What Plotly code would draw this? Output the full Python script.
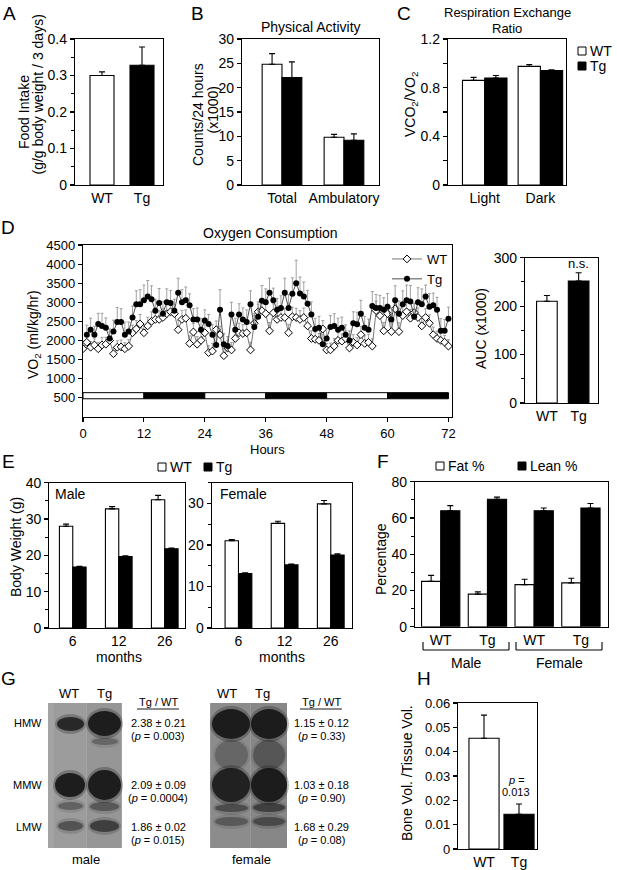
import plotly.graph_objects as go

W, H = 617, 870
FONT = "Liberation Sans"
BLACK = "black"

# ---------------- data ----------------
a_labels = ["WT", "Tg"]
a_values = [0.300, 0.328]
a_errors = [0.010, 0.050]

b_labels = ["Total", "Ambulatory"]
b_wt = [24.8, 9.8]
b_wt_err = [2.2, 0.6]
b_tg = [22.1, 9.2]
b_tg_err = [3.2, 1.3]

c_labels = ["Light", "Dark"]
c_wt = [0.86, 0.975]
c_wt_err = [0.025, 0.015]
c_tg = [0.88, 0.94]
c_tg_err = [0.020, 0.006]

d_interval_h = 0.75
d_wt = [1780, 1950, 1820, 1880, 1780, 1880, 1900, 2000, 1650, 1820,
        1830, 1780, 1850, 2200, 2300, 2430, 2200, 2380, 2500, 2550,
        2550, 2600, 2700, 2750, 2700, 2280, 2550, 2580, 1920, 2220,
        1900, 2000, 2200, 1680, 1720, 2280, 2150, 1600, 1800, 1750,
        2050, 2200, 2180, 2200, 1750, 2450, 2750, 2780, 2700, 2250,
        2720, 2550, 2600, 2600, 2200, 2620, 2600, 2550, 2600, 2380,
        2050, 2030, 2000, 2300, 1750, 1750, 1850, 2000, 1980, 2050,
        1800, 1950, 1880, 2150, 1920, 1950, 1850, 2780, 2650, 2250,
        2700, 2230, 2830, 2230, 2650, 2750, 2580, 2730, 2600, 2380,
        2600, 2450, 2150, 2050, 2000, 1950, 1850]
d_wt_err = [200, 180, 150, 160, 170, 200, 180, 220, 150, 170,
            180, 160, 170, 200, 220, 250, 200, 230, 250, 220,
            230, 240, 250, 220, 230, 250, 240, 220, 200, 220,
            200, 220, 250, 180, 200, 230, 220, 180, 200, 190,
            220, 250, 230, 240, 200, 250, 260, 250, 240, 220,
            240, 220, 230, 240, 220, 250, 240, 230, 250, 220,
            200, 190, 180, 220, 170, 180, 200, 210, 190, 200,
            180, 200, 190, 220, 200, 210, 190, 250, 240, 220,
            250, 220, 260, 230, 240, 250, 230, 240, 250, 220,
            230, 220, 200, 190, 180, 180, 170]
d_tg = [2150, 2280, 2150, 2430, 2380, 2330, 2050, 2230, 2480, 2480,
        2150, 2230, 2600, 2950, 2950, 3050, 3150, 3080, 2780, 2980,
        2700, 3000, 2980, 2780, 3250, 3000, 3050, 2920, 2550, 2550,
        2280, 2520, 2430, 2150, 1880, 2800, 1900, 1850, 2680, 2280,
        2680, 2550, 2480, 2950, 2350, 2620, 3040, 3000, 3250, 3050,
        2800, 2850, 3250, 2850, 3220, 3500, 3230, 3150, 2960, 2680,
        2300, 2330, 1900, 2050, 2350, 2380, 2280, 2330, 2150, 2000,
        2450, 2420, 2700, 2330, 2280, 2900, 2850, 2850, 2800, 2880,
        2550, 3050, 2700, 2950, 3050, 3020, 2620, 3000, 2950, 3150,
        2880, 2920, 2800, 2250, 2250, 2570]
d_tg_err = [250, 300, 220, 280, 330, 260, 250, 300, 380, 350,
            330, 250, 300, 350, 380, 400, 420, 350, 300, 380,
            320, 350, 330, 300, 380, 330, 350, 300, 280, 300,
            300, 280, 250, 260, 300, 530, 280, 250, 320, 300,
            280, 300, 320, 350, 300, 330, 400, 350, 380, 320,
            300, 320, 380, 350, 420, 600, 430, 380, 350, 330,
            280, 300, 250, 260, 300, 320, 300, 280, 260, 250,
            300, 320, 350, 300, 280, 380, 350, 330, 320, 350,
            300, 380, 330, 350, 400, 420, 350, 380, 400, 300,
            350, 320, 330, 320, 300, 300]
d_x_ticks = [0, 12, 24, 36, 48, 60, 72]
d_y_ticks = [500, 1000, 1500, 2000, 2500, 3000, 3500, 4000, 4500]
d_phases = ["light", "dark", "light", "dark", "light", "dark"]
d_phase_len_h = 12

auc_labels = ["WT", "Tg"]
auc_values = [210, 252]
auc_errors = [12, 17]

e_months = ["6", "12", "26"]
e_male_wt = [28.0, 32.8, 35.3]
e_male_wt_err = [0.6, 0.6, 1.2]
e_male_tg = [16.8, 19.7, 21.8]
e_male_tg_err = [0.2, 0.2, 0.2]
e_fem_wt = [21.0, 25.2, 29.9]
e_fem_wt_err = [0.3, 0.5, 0.8]
e_fem_tg = [13.1, 15.2, 17.6]
e_fem_tg_err = [0.2, 0.2, 0.3]

f_labels = ["WT", "Tg", "WT", "Tg"]
f_fat = [25.0, 18.0, 23.2, 24.2]
f_fat_err = [3.3, 1.2, 3.0, 2.5]
f_lean = [64.0, 70.3, 64.0, 65.5]
f_lean_err = [2.8, 1.2, 1.5, 2.5]

g_rows = ["HMW", "MMW", "LMW"]
g_male_mean = ["2.38", "2.09", "1.86"]
g_male_sd = ["0.21", "0.09", "0.02"]
g_male_p = ["0.003", "0.0004", "0.015"]
g_fem_mean = ["1.15", "1.03", "1.68"]
g_fem_sd = ["0.12", "0.18", "0.29"]
g_fem_p = ["0.33", "0.90", "0.08"]

h_labels = ["WT", "Tg"]
h_values = [0.0455, 0.0143]
h_errors = [0.0095, 0.0042]

# ---------------- helpers ----------------
annotations = []
shapes = []


def px(x):
    return x / W


def py(y):
    return 1 - y / H


def txt(x, y, s, size=14, angle=0, xanchor="center", yanchor="middle"):
    annotations.append(dict(x=px(x), y=py(y), xref="paper", yref="paper", text=s,
                            showarrow=False, textangle=angle, xanchor=xanchor,
                            yanchor=yanchor,
                            font=dict(family=FONT, size=size, color=BLACK)))


def prect(x0, y0, x1, y1, fill, line=None, lw=0, opacity=1.0, kind="rect"):
    shapes.append(dict(type=kind, xref="paper", yref="paper", x0=px(x0), x1=px(x1),
                       y0=py(y1), y1=py(y0), fillcolor=fill, opacity=opacity,
                       line=dict(color=line or fill, width=lw), layer="above"))


def pline(x0, y0, x1, y1, lw=1.1):
    shapes.append(dict(type="line", xref="paper", yref="paper", x0=px(x0), x1=px(x1),
                       y0=py(y0), y1=py(y1), line=dict(color=BLACK, width=lw)))


boxes = {
    1: (75, 163, 39, 185),
    2: (242, 379, 39, 185),
    3: (448, 566, 39, 185),
    4: (83, 452, 245, 416.7),
    5: (525, 598, 257.7, 403),
    6: (49.3, 185, 482.7, 628),
    7: (211.7, 352, 482.7, 628),
    8: (415, 608, 481.7, 626.7),
    9: (458, 537, 703, 849),
}


def base_axis(size=14):
    return dict(showline=True, linecolor=BLACK, linewidth=1.2, mirror=True,
                showgrid=False, zeroline=False, ticks="outside", ticklen=4,
                tickwidth=1.1, tickcolor=BLACK, fixedrange=True,
                tickfont=dict(family=FONT, size=size, color=BLACK))


layout_axes = {}


def make_axes(i, xcfg, ycfg):
    x0, x1, y0, y1 = boxes[i]
    xa = base_axis(xcfg.pop("fontsize", 14))
    ya = base_axis(ycfg.pop("fontsize", 14))
    xa.update(domain=[px(x0), px(x1)], anchor="y" if i == 1 else f"y{i}")
    ya.update(domain=[py(y1), py(y0)], anchor="x" if i == 1 else f"x{i}")
    xa.update(xcfg)
    ya.update(ycfg)
    layout_axes["xaxis" if i == 1 else f"xaxis{i}"] = xa
    layout_axes["yaxis" if i == 1 else f"yaxis{i}"] = ya


def cat_x(labels, rng, positions=None):
    pos = positions if positions is not None else list(range(len(labels)))
    return dict(range=rng, tickvals=pos, ticktext=labels, ticks="", ticklen=0)


def minor(d, ln=3):
    return dict(dtick=d, ticks="outside", ticklen=ln, tickwidth=1.1, tickcolor=BLACK,
                showgrid=False)


traces = []


def bars(i, xs, ys, errs, fill, width, offset=None):
    traces.append(go.Bar(
        x=xs, y=ys, width=width, offset=offset,
        marker=dict(color=fill, line=dict(color=BLACK, width=1.1)),
        error_y=dict(type="data", array=errs, arrayminus=[0] * len(errs),
                     symmetric=False, color=BLACK, thickness=1.1, width=3),
        xaxis="x" if i == 1 else f"x{i}", yaxis="y" if i == 1 else f"y{i}",
        showlegend=False, hoverinfo="skip"))


# ---------------- Panel A ----------------
bars(1, [0], a_values[:1], a_errors[:1], "white", 0.6)
bars(1, [1], a_values[1:], a_errors[1:], BLACK, 0.6)
make_axes(1, cat_x(a_labels, [-0.675, 1.525]),
          dict(range=[0, 0.4], tick0=0, dtick=0.1, minor=minor(0.05)))

# ---------------- Panel B ----------------
bx = list(range(len(b_labels)))
bars(2, bx, b_wt, b_wt_err, "white", 0.32, -0.32)
bars(2, bx, b_tg, b_tg_err, BLACK, 0.32, 0)
make_axes(2, cat_x(b_labels, [-0.645, 1.565]),
          dict(range=[0, 30], tick0=0, dtick=5))

# ---------------- Panel C ----------------
cx = list(range(len(c_labels)))
bars(3, cx, c_wt, c_wt_err, "white", 0.4, -0.4)
bars(3, cx, c_tg, c_tg_err, BLACK, 0.4, 0)
make_axes(3, cat_x(c_labels, [-0.66, 1.46]),
          dict(range=[0, 1.2], tick0=0, dtick=0.4, minor=minor(0.2, 4)))

# ---------------- Panel D ----------------
d_wt_hours = [i * d_interval_h for i in range(len(d_wt))]
d_tg_hours = [(i + 1) * d_interval_h for i in range(len(d_tg))]
traces.append(go.Scatter(
    x=d_wt_hours, y=d_wt, mode="lines+markers", name="WT",
    line=dict(color="#555555", width=0.8),
    marker=dict(symbol="diamond", size=6, color="white", line=dict(color=BLACK, width=1)),
    error_y=dict(type="data", array=d_wt_err, arrayminus=[0] * len(d_wt_err),
                 symmetric=False, color="#8a8a8a", thickness=0.8, width=1.5),
    xaxis="x4", yaxis="y4", legend="legend", hoverinfo="skip"))
traces.append(go.Scatter(
    x=d_tg_hours, y=d_tg, mode="lines+markers", name="Tg",
    line=dict(color="#222222", width=0.8),
    marker=dict(symbol="circle", size=6, color=BLACK),
    error_y=dict(type="data", array=d_tg_err, arrayminus=[0] * len(d_tg_err),
                 symmetric=False, color="#8a8a8a", thickness=0.8, width=1.5),
    xaxis="x4", yaxis="y4", legend="legend", hoverinfo="skip"))
make_axes(4, dict(range=[0, 72.7], tickvals=d_x_ticks, fontsize=13),
          dict(range=[0, 4500], tickvals=d_y_ticks, fontsize=13))
for k, ph in enumerate(d_phases):
    shapes.append(dict(type="rect", xref="x4", yref="y4",
                       x0=k * d_phase_len_h, x1=(k + 1) * d_phase_len_h, y0=470, y1=630,
                       fillcolor="white" if ph == "light" else BLACK,
                       line=dict(color=BLACK, width=1), layer="above"))

# ---------------- AUC ----------------
bars(5, [0], auc_values[:1], auc_errors[:1], "white", 0.65)
bars(5, [1], auc_values[1:], auc_errors[1:], BLACK, 0.65)
make_axes(5, cat_x(auc_labels, [-0.69, 1.61]),
          dict(range=[0, 300], tick0=0, dtick=100, minor=minor(50)))

# ---------------- Panel E ----------------
ex = list(range(len(e_months)))
bars(6, ex, e_male_wt, e_male_wt_err, "white", 0.29, -0.29)
bars(6, ex, e_male_tg, e_male_tg_err, BLACK, 0.29, 0)
make_axes(6, cat_x(e_months, [-0.51, 2.44]),
          dict(range=[0, 40], tick0=0, dtick=10, minor=minor(5)))
bars(7, ex, e_fem_wt, e_fem_wt_err, "white", 0.29, -0.29)
bars(7, ex, e_fem_tg, e_fem_tg_err, BLACK, 0.29, 0)
make_axes(7, cat_x(e_months, [-0.58, 2.46]),
          dict(range=[0, 35], tick0=0, dtick=10, minor=minor(5)))

# ---------------- Panel F ----------------
fx = list(range(len(f_labels)))
bars(8, fx, f_fat, f_fat_err, "white", 0.41, -0.41)
bars(8, fx, f_lean, f_lean_err, BLACK, 0.41, 0)
make_axes(8, cat_x(f_labels, [-0.55, 3.58]),
          dict(range=[0, 80], tick0=0, dtick=20, minor=minor(10)))

# ---------------- Panel H ----------------
bars(9, [0], h_values[:1], h_errors[:1], "white", 0.86)
bars(9, [1], h_values[1:], h_errors[1:], BLACK, 0.86)
make_axes(9, cat_x(h_labels, [-0.743, 1.514]),
          dict(range=[0, 0.06], tick0=0, dtick=0.01, fontsize=13))

# ---------------- text: letters, titles, labels ----------------
for letter, x, y in [("A", 9, 14), ("B", 197, 14), ("C", 404, 14), ("D", 8, 227),
                     ("E", 8, 461), ("F", 383, 461), ("G", 8, 678), ("H", 424, 678)]:
    txt(x, y, letter, size=19)

txt(310.5, 27, "Physical Activity")
txt(507, 13, "Respiration Exchange", size=13)
txt(507, 28.5, "Ratio", size=13)
txt(270, 233, "Oxygen Consumption")

txt(24, 112, "Food Intake", angle=-90)
txt(37.5, 95, "(g/g body weight / 3 days)", angle=-90)
txt(198, 115, "Counts/24 hours", angle=-90)
txt(212.5, 110, "(x1000)", angle=-90)
txt(411, 105, "VCO<sub>2</sub>/VO<sub>2</sub>", angle=-90)
txt(34, 335, "VO<sub>2</sub> (ml/kg/hr)", angle=-90)
txt(267, 449.5, "Hours", size=13)
txt(481, 328, "AUC (x1000)", angle=-90)
txt(578, 263, "n.s.", size=13)
txt(16, 547, "Body Weight (g)", angle=-90)
txt(119, 657, "months")
txt(282, 657, "months")
txt(53, 494, "Male", xanchor="left")
txt(218, 494, "Female", xanchor="left")
txt(381, 559, "Percentage", angle=-90)
txt(466, 663, "Male")
txt(559, 663, "Female")
txt(407, 773, "Bone Vol. /Tissue Vol.", angle=-90)
txt(516, 780, "<i>p</i> =", size=11)
txt(516, 792, "0.013", size=11)

# F brackets
for xa0, xa1 in [(423, 509), (516, 602)]:
    pline(xa0, 650, xa1, 650)
    pline(xa0, 642, xa0, 650)
    pline(xa1, 642, xa1, 650)


# manual bar legends (C, E, F)
def leg_item(x, y, fill, label, size=14):
    prect(x, y - 4, x + 8, y + 4, fill, line=BLACK, lw=1)
    txt(x + 10, y, label, size=size, xanchor="left")


leg_item(578, 51, "white", "WT")
leg_item(578, 66, BLACK, "Tg")
leg_item(158, 467, "white", "WT")
leg_item(204, 467, BLACK, "Tg")
leg_item(436, 466, "white", "Fat %")
leg_item(518, 466, BLACK, "Lean %")

# ---------------- Panel G (blots drawn as shapes) ----------------
prect(48, 703, 122, 848, "#a3a3a3")
prect(210, 703, 287, 848, "#969696")
prect(54, 703, 86, 848, "#8f8f8f", opacity=0.35)
prect(87, 703, 121, 848, "#7f7f7f", opacity=0.35)
prect(211, 703, 250, 848, "#7a7a7a", opacity=0.35)
prect(251, 703, 287, 848, "#707070", opacity=0.4)
g_bands = [
    # male WT lane
    (57, 84, 717, 731, 0.8), (55, 85, 773, 797, 0.9), (58, 83, 802, 810, 0.35),
    (58, 83, 821, 831, 0.45),
    # male Tg lane
    (88, 121, 711, 736, 0.9), (92, 118, 738, 745, 0.3), (88, 121, 770, 800, 0.9),
    (90, 119, 802, 811, 0.4), (90, 119, 820, 832, 0.6),
    # female WT lane
    (212, 250, 709, 739, 0.9), (215, 248, 740, 770, 0.25), (212, 250, 768, 802, 0.85),
    (215, 248, 804, 812, 0.45), (215, 248, 817, 826, 0.35),
    # female Tg lane
    (251, 287, 709, 739, 0.9), (253, 285, 740, 770, 0.35), (251, 287, 768, 802, 0.9),
    (253, 285, 803, 812, 0.55), (253, 285, 817, 826, 0.45),
]
for x0, x1, y0, y1, op in g_bands:
    # soft halo then core, to imitate a blurred band
    prect(x0 - 2, y0 - 3, x1 + 2, y1 + 3, "#222222", opacity=op * 0.35, kind="circle")
    prect(x0, y0, x1, y1, "#141414", opacity=op, kind="circle")

txt(69, 693, "WT", size=13)
txt(104, 693, "Tg", size=13)
txt(227, 693, "WT", size=13)
txt(262, 693, "Tg", size=13)
txt(86, 859, "male", size=13)
txt(251, 859, "female", size=13)
for row, yv in zip(g_rows, [723, 785, 827]):
    txt(44, yv, row, size=11, xanchor="right")

for cxp, means, sds, ps in [(158, g_male_mean, g_male_sd, g_male_p),
                            (321, g_fem_mean, g_fem_sd, g_fem_p)]:
    txt(cxp, 702, "Tg / WT", size=11)
    pline(cxp - 21, 709, cxp + 21, 709, lw=0.9)
    for m, s, p, yv in zip(means, sds, ps, [723, 785, 827]):
        txt(cxp, yv, f"{m} ± {s}", size=11)
        txt(cxp, yv + 12.5, f"(<i>p</i> = {p})", size=11)

# ---------------- figure ----------------
fig = go.Figure(traces)
fig.update_layout(
    width=W, height=H, margin=dict(l=0, r=0, t=0, b=0, autoexpand=False),
    paper_bgcolor="white", plot_bgcolor="white", barmode="overlay",
    font=dict(family=FONT, size=14, color=BLACK),
    annotations=annotations, shapes=shapes, showlegend=True,
    legend=dict(x=px(387), y=py(244), xanchor="left", yanchor="top",
                bgcolor="rgba(0,0,0,0)", borderwidth=0, itemwidth=30,
                tracegroupgap=0, font=dict(family=FONT, size=13, color=BLACK)),
    **layout_axes,
)
fig.write_html("out.html", config={"displayModeBar": False, "staticPlot": True},
               post_script="document.body.style.margin='0';document.body.style.overflow='hidden';")
